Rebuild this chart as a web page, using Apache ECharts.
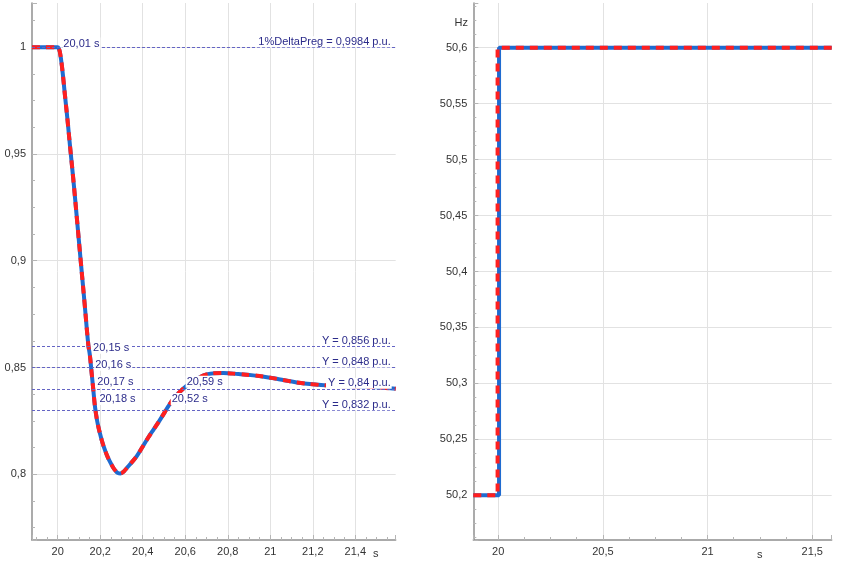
<!DOCTYPE html>
<html><head><meta charset="utf-8">
<script src="https://cdn.jsdelivr.net/npm/echarts@6/dist/echarts.min.js"></script>
<style>html,body{margin:0;padding:0;background:#fff}#c{width:842px;height:561px}</style>
</head><body><div id="c"></div>
<script>
// ---- data ----
const powerTime = [19.879, 20.0, 20.004, 20.01, 20.02, 20.034, 20.046, 20.058, 20.073, 20.09, 20.108, 20.126, 20.144, 20.151, 20.159, 20.167, 20.174, 20.18, 20.186, 20.193, 20.2, 20.207, 20.215, 20.23, 20.245, 20.26, 20.272, 20.283, 20.295, 20.31, 20.33, 20.35, 20.372, 20.4, 20.426, 20.45, 20.475, 20.5, 20.52, 20.55, 20.59, 20.63, 20.67, 20.70, 20.74, 20.78, 20.85, 20.92, 20.97, 21.04, 21.125, 21.2, 21.28, 21.36, 21.45, 21.52, 21.59];
const powerValue = [1.0, 1.0, 0.9996, 0.9978, 0.991, 0.9775, 0.966, 0.9535, 0.9385, 0.920, 0.9001, 0.8805, 0.8605, 0.856, 0.848, 0.840, 0.8328, 0.8283, 0.8247, 0.8214, 0.8186, 0.8160, 0.8134, 0.8093, 0.8060, 0.8033, 0.8016, 0.8006, 0.8004, 0.8012, 0.8035, 0.8058, 0.8085, 0.8130, 0.8172, 0.8208, 0.8245, 0.8285, 0.8318, 0.8360, 0.8400, 0.8432, 0.8455, 0.8467, 0.8473, 0.8474, 0.8469, 0.8463, 0.8457, 0.8445, 0.8430, 0.8421, 0.8415, 0.8412, 0.8410, 0.8406, 0.8400];

const freqTimeBlue = [19.881, 20.004, 20.004, 21.593];
const freqValueBlue = [50.2, 50.2, 50.6, 50.6];
const freqTimeRed = [19.881, 19.997, 19.997, 21.593];
const freqValueRed = [50.2, 50.2, 50.6, 50.6];

const refLevels = [0.9984, 0.856, 0.848, 0.84, 0.832];
const refLabels = ['1%DeltaPreg = 0,9984 p.u.', 'Y = 0,856 p.u.', 'Y = 0,848 p.u.', 'Y = 0,84 p.u.', 'Y = 0,832 p.u.'];

const crossTimes = [20.01, 20.15, 20.16, 20.17, 20.18, 20.52, 20.59];
const crossValues = [0.9984, 0.856, 0.848, 0.84, 0.832, 0.832, 0.84];
const crossLabels = ['20,01 s', '20,15 s', '20,16 s', '20,17 s', '20,18 s', '20,52 s', '20,59 s'];

// ---- chart ----
const zip = (a, b) => a.map((x, i) => [x, b[i]]);
const fmt = v => String(+(+v).toFixed(2)).replace('.', ',');
const FONT = 'Liberation Sans, Arial, sans-serif';
const BLUE = '#1f6bd0', RED = '#ff1f1f', NAVY = '#2b2b8a';

function axis(extra) {
  return Object.assign({
    type: 'value', scale: true,
    axisLine: { show: true, lineStyle: { color: '#8f8f8f', width: 1.5 } },
    axisTick: { show: true, inside: true, length: 5, lineStyle: { color: '#b5b5b5' } },
    minorTick: { show: true, splitNumber: 4, length: 3, lineStyle: { color: '#b5b5b5' } },
    axisLabel: { color: '#333', fontSize: 11, fontFamily: FONT, formatter: fmt, showMinLabel: false, showMaxLabel: false, margin: 6 },
    splitLine: { show: true, showMinLine: false, showMaxLine: false, lineStyle: { color: '#e2e2e2', width: 1 } },
    minorSplitLine: { show: false }
  }, extra);
}

const labelStyle = { color: NAVY, fontSize: 11, fontFamily: FONT, backgroundColor: '#fff', opacity: 1 };

const chart = echarts.init(document.getElementById('c'), null, { renderer: 'canvas' });
chart.setOption({
  animation: false,
  backgroundColor: '#fff',
  grid: [
    { left: 32, top: 3, right: 446.3, bottom: 21, containLabel: false },
    { left: 473.3, top: 3, right: 10.3, bottom: 21, containLabel: false }
  ],
  xAxis: [
    axis({ gridIndex: 0, min: 19.879, max: 21.59, splitNumber: 8 }),
    axis({ gridIndex: 1, min: 19.881, max: 21.593, splitNumber: 3 })
  ],
  yAxis: [
    axis({ gridIndex: 0, min: 0.7692, max: 1.0207, splitNumber: 5 }),
    axis({ gridIndex: 1, min: 50.16, max: 50.64, splitNumber: 10 })
  ],
  graphic: [
    { type: 'text', left: 373, top: 548, style: { text: 's', fill: '#333', font: '11px ' + FONT } },
    { type: 'text', left: 757, top: 549, style: { text: 's', fill: '#333', font: '11px ' + FONT } },
    { type: 'text', right: 842 - 468, top: 17, style: { text: 'Hz', fill: '#333', font: '11px ' + FONT } }
  ],
  series: [
    { type: 'line', xAxisIndex: 0, yAxisIndex: 0, data: zip(powerTime, powerValue), showSymbol: false, smooth: 0.4,
      lineStyle: { color: BLUE, width: 4 }, z: 2, silent: true },
    { type: 'line', xAxisIndex: 0, yAxisIndex: 0, data: zip(powerTime, powerValue), showSymbol: false, smooth: 0.4,
      lineStyle: { color: RED, width: 4, type: [8, 6] }, z: 3, silent: true },
    { type: 'line', xAxisIndex: 0, yAxisIndex: 0, data: [], z: 10, silent: true,
      markLine: {
        symbol: ['none', 'none'], silent: true, animation: false, z: 10,
        lineStyle: { color: '#6464c4', type: [3, 2], width: 1 },
        label: Object.assign({ position: 'insideEndTop', distance: [4, 0], padding: [0, 1, 0, 2] }, labelStyle),
        data: refLevels.map((v, i) => ({ yAxis: v, label: { formatter: refLabels[i] } }))
      },
      markPoint: {
        silent: true, animation: false, z: 11,
        symbol: 'circle', symbolSize: 1, itemStyle: { color: 'rgba(0,0,0,0)' },
        label: Object.assign({ show: true, position: 'right', distance: 2, offset: [0, -7], padding: [1, 1, 0, 1],
          formatter: p => crossLabels[p.dataIndex] }, labelStyle),
        data: crossTimes.map((t, i) => ({ coord: [t, crossValues[i]] }))
      } },
    { type: 'line', xAxisIndex: 1, yAxisIndex: 1, data: zip(freqTimeBlue, freqValueBlue), showSymbol: false,
      lineStyle: { color: BLUE, width: 4 }, z: 2, silent: true },
    { type: 'line', xAxisIndex: 1, yAxisIndex: 1, data: zip(freqTimeRed, freqValueRed), showSymbol: false,
      lineStyle: { color: RED, width: 4, type: [8, 6] }, z: 3, silent: true }
  ]
});
</script>
</body></html>
